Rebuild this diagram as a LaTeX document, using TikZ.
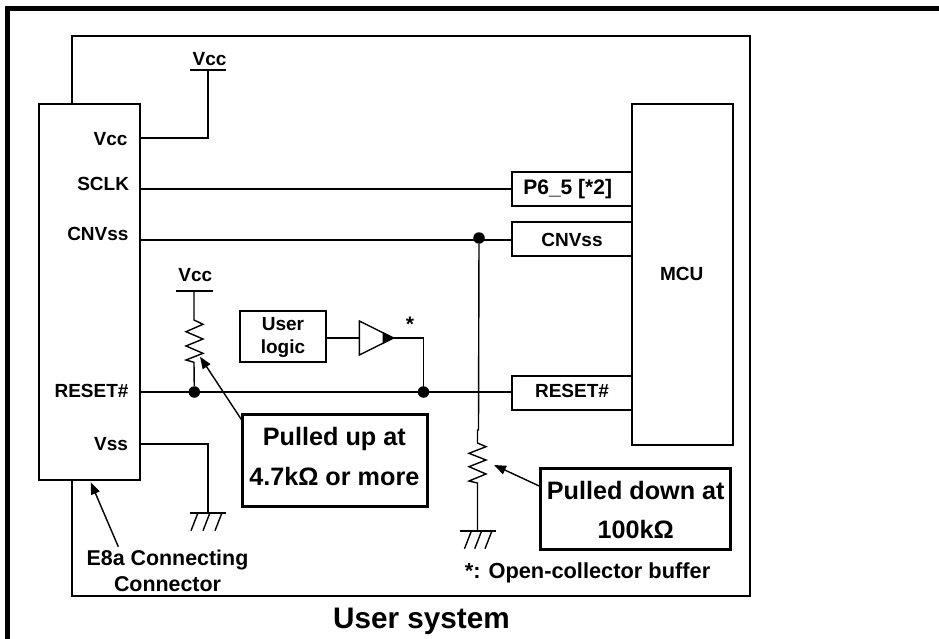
\documentclass[tikz,border=0pt]{standalone}
\usepackage{fontspec}
\setmainfont{Liberation Sans}
\usetikzlibrary{arrows.meta}
\tikzset{
  wire/.style={line width=1.6pt,line cap=rect,line join=miter},
  blk/.style={draw,line width=1.6pt,outer sep=0pt,inner sep=0pt,anchor=north west},
  lab/.style={font=\fontsize{19}{22}\selectfont\bfseries,inner sep=0pt,outer sep=0pt,anchor=base},
  rlab/.style={lab,anchor=base east},
  big/.style={font=\fontsize{25.2}{30}\selectfont\bfseries,inner sep=0pt,outer sep=0pt,anchor=base},
  call/.style={draw,line width=2.9pt,outer sep=0pt,inner sep=0pt,anchor=north west},
  dot/.style={circle,fill=black,draw=none,minimum size=11.5pt,inner sep=0pt},
  res/.style={line width=1.4pt,line join=miter},
  ptr/.style={line width=1.4pt,-{Triangle[length=12pt,width=9pt]},shorten >=0pt}
}
\begin{document}
\begin{tikzpicture}[x=1pt,y=-1pt]
\useasboundingbox (0,0) rectangle (939,639);
% outer frame
\coordinate (fa) at (7.5,639); \coordinate (fb) at (7.5,8.5); \coordinate (fc) at (939,8.5);
\draw[line width=5pt] (fa) -- (fb) -- (fc);
% user system outline
\coordinate (ua) at (72,104); \coordinate (ub) at (72,36); \coordinate (uc) at (750,36);
\coordinate (ud) at (750,596); \coordinate (ue) at (72,596); \coordinate (uf) at (72,480);
\draw[wire] (ua) -- (ub) -- (uc) -- (ud) -- (ue) -- (uf);
% main blocks
\node[blk,minimum width=101pt,minimum height=376pt] (e8) at (39,104) {};
\node[blk,minimum width=101pt,minimum height=341pt] (mcu) at (632,104) {};
\node[lab] (mcutxt) at (681.7,280) {MCU};
\node[blk,minimum width=120pt,minimum height=34pt] (p65) at (512,172) {};
\node[lab,font=\fontsize{21}{24}\selectfont\bfseries] (p65t) at (567.7,194.3) {P6\_5 [*2]};
\node[blk,minimum width=120pt,minimum height=34pt] (cnv) at (512,222) {};
\node[lab] (cnvt) at (572,246) {CNVss};
\node[blk,minimum width=120pt,minimum height=34pt] (rst) at (512,376) {};
\node[lab] (rstt) at (572,397.7) {RESET\#};
% E8a labels
\node[rlab] (l1) at (127.5,145.7) {Vcc};
\node[rlab] (l2) at (129,191) {SCLK};
\node[rlab] (l3) at (128.5,240.7) {CNVss};
\node[rlab] (l4) at (128.5,397.3) {RESET\#};
\node[rlab] (l5) at (128,450.7) {Vss};
% Vcc top
\coordinate (v1l) at (191,70); \coordinate (v1r) at (225.5,70); \coordinate (v1) at (208,70); \coordinate (v1c) at (208,138);
\coordinate (e1) at (140,138);
\draw[wire] (v1l) -- (v1r);
\draw[wire] (e1) -- (v1c) -- (v1);
\node[lab] (v1t) at (209.5,66) {Vcc};
% signals
\coordinate (e2) at (140,189); \coordinate (p2) at (512,189);
\draw[wire] (e2) -- (p2);
\coordinate (e3) at (140,240); \coordinate (p3) at (512,240);
\draw[wire] (e3) -- (p3);
\coordinate (e4) at (140,392); \coordinate (p4) at (512,392);
\draw[wire] (e4) -- (p4);
\node[dot] (d1) at (479,238) {};
\node[dot] (d2) at (194.3,392) {};
\node[dot] (d3) at (423.5,392) {};
% Vcc 2 and pull-up
\coordinate (v2l) at (177,291); \coordinate (v2r) at (212,291); \coordinate (v2) at (194,291);
\draw[wire] (v2l) -- (v2r);
\node[lab] (v2t) at (195.3,281.7) {Vcc};
\draw[res] (v2) -- (194,320) -- (203,324.3) -- (186,331.7) -- (203,339) -- (186,346) -- (203,353.3) -- (186,360) -- (194,362.3) -- (d2);
% user logic
\node[blk,minimum width=86pt,minimum height=51pt] (ul) at (240,311) {};
\node[lab] (ult1) at (283,330) {User};
\node[lab] (ult2) at (283,353.3) {logic};
\coordinate (bi) at (359.3,338); \coordinate (bt) at (393.5,338); \coordinate (bo) at (423.5,338);
\draw[wire] (ul.east |- bi) -- (bi);
\draw[res] (359.3,321) -- (bt) -- (359.3,355) -- cycle;
\fill (382.7,332) -- (bt) -- (382.7,344) -- cycle;
\draw[wire] (bt) -- (bo) -- (d3);
\node[lab,font=\fontsize{21}{24}\selectfont\bfseries] (st) at (410,331.5) {*};
% pull-down
\draw[res] (d1) -- (478.5,430) -- (477.5,430) -- (477.5,443) -- (486,446.7) -- (469,453.3) -- (486,460) -- (469,466.7) -- (486,474) -- (469,481) -- (477.5,483) -- (477.5,530.7);
% grounds
\coordinate (e5) at (140,444); \coordinate (g1c) at (208,444); \coordinate (g1) at (208,513);
\draw[wire] (e5) -- (g1c) -- (g1);
\draw[wire] (191,513) -- (225,513);
\foreach \x in {198,210,222}{\draw[res] (\x,512.7) -- (\x-7,530.7);}
\draw[wire] (461,531) -- (495,531);
\foreach \x in {471.5,481.7,492}{\draw[res] (\x,530.7) -- (\x-7,548.7);}
% callouts
\node[call,minimum width=185pt,minimum height=92pt] (c1) at (242.5,414.5) {};
\node[big] (c1t) at (334.3,445) {Pulled up at};
\node[big] (c1u) at (334.3,485) {4.7kΩ or more};
\node[call,minimum width=190pt,minimum height=81pt] (c2) at (540.5,468.5) {};
\node[big] (c2t) at (635.7,499) {Pulled down at};
\node[big] (c2u) at (635.7,538.3) {100kΩ};
\coordinate (a1s) at (241.7,420); \coordinate (a1e) at (200,356.7);
\draw[ptr] (a1s) -- (a1e);
\coordinate (a2s) at (540.7,486.7); \coordinate (a2e) at (494,465);
\draw[ptr] (a2s) -- (a2e);
\coordinate (a3s) at (118.3,546.7); \coordinate (a3e) at (90.7,482.3);
\draw[ptr] (a3s) -- (a3e);
% texts
\node[lab,font=\fontsize{21.4}{24}\selectfont\bfseries] (e8t) at (167.5,565.7) {E8a Connecting};
\node[lab,font=\fontsize{21.4}{24}\selectfont\bfseries] (e8u) at (167.5,591.7) {Connector};
\node[lab,font=\fontsize{21.8}{25}\selectfont\bfseries] (oc) at (587.5,578) {*: Open-collector buffer};
\node[lab,font=\fontsize{29.7}{34}\selectfont\bfseries] (us) at (421.5,628.3) {User system};
\end{tikzpicture}
\end{document}
